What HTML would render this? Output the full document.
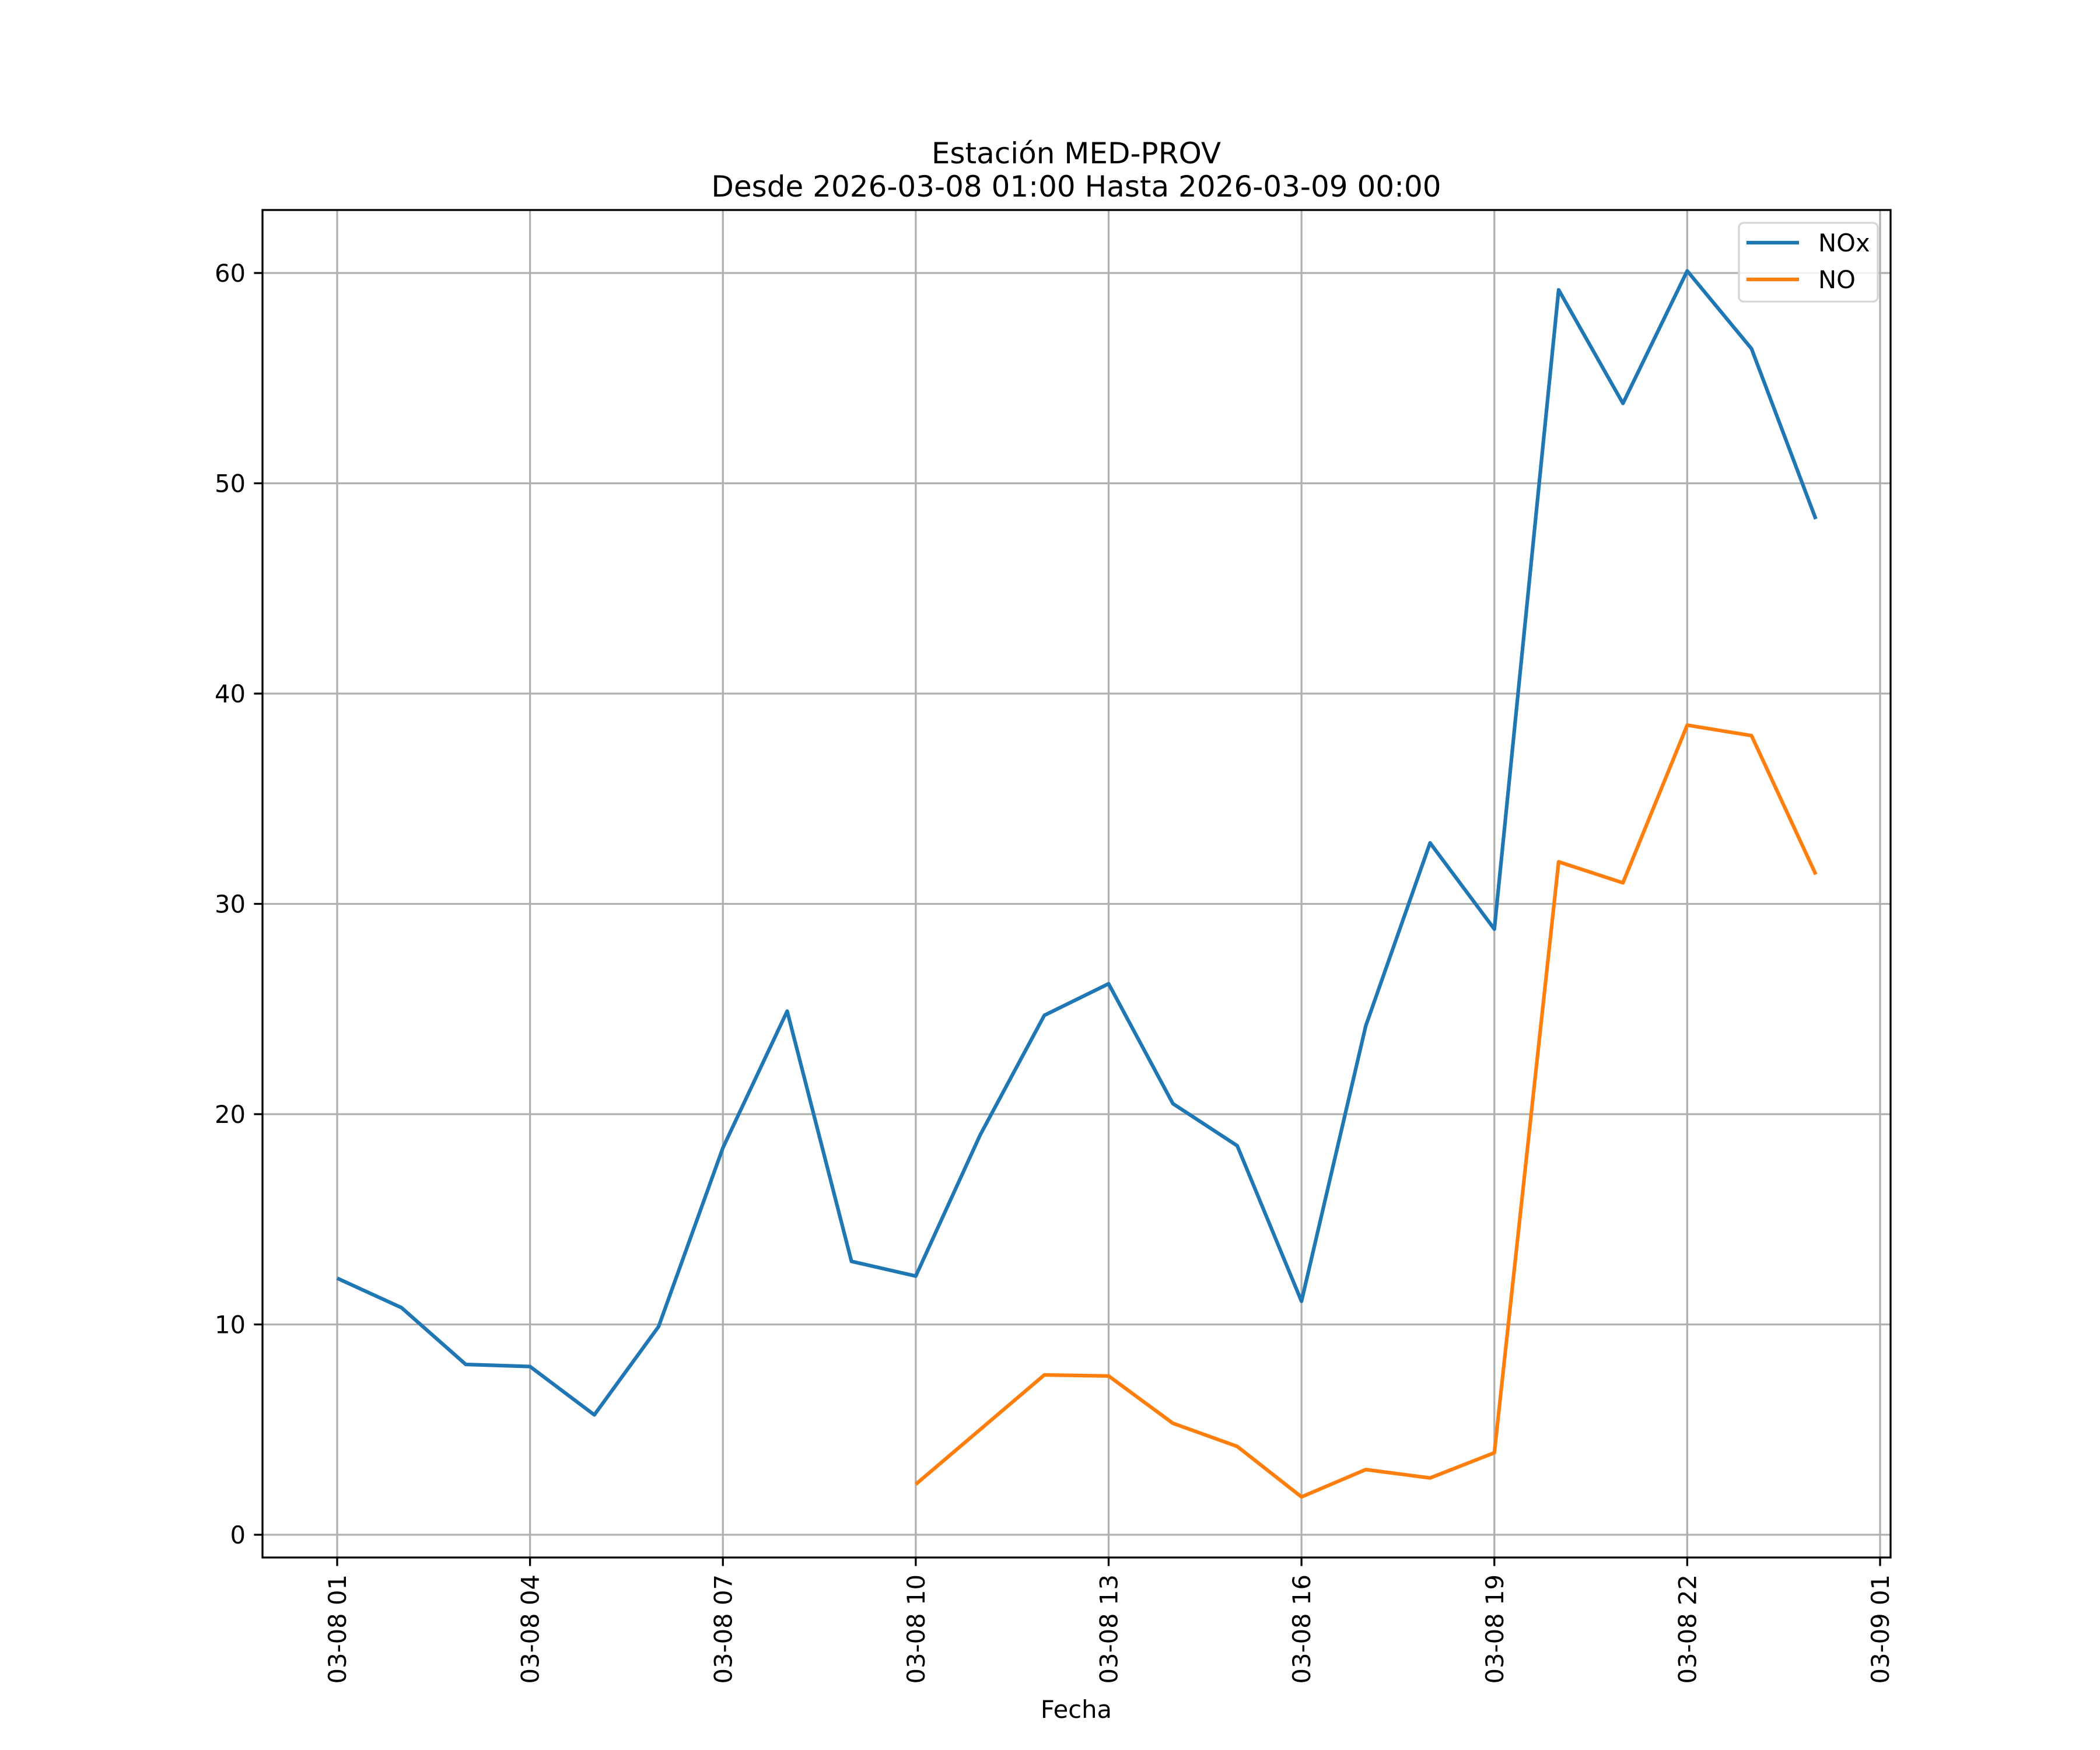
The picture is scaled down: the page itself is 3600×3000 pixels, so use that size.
<!DOCTYPE html>
<html><head><meta charset="utf-8"><style>
html,body{margin:0;padding:0;background:#fff;}
svg{display:block;font-family:"DejaVu Sans","Liberation Sans",sans-serif;}
</style></head><body>
<svg id="chart" width="3600" height="3000" viewBox="0 0 3600 3000">
<rect width="3600" height="3000" fill="#fff"/>
<text x="1845" y="280" font-size="50" text-anchor="middle">Estación MED-PROV</text>
<text x="1845" y="337" font-size="50" text-anchor="middle">Desde 2026-03-08 01:00 Hasta 2026-03-09 00:00</text>
<g id="grid"></g>
<g id="series"></g>
<rect x="450" y="360" width="2791" height="2310" fill="none" stroke="#000" stroke-width="3.3"/>
<g id="axes"></g>
<text x="1845" y="2945" font-size="41.7" text-anchor="middle">Fecha</text>
<g>
<rect x="2981" y="382" width="238" height="135" rx="8" fill="#fff" fill-opacity="0.8" stroke="#d6d6d6" stroke-width="3.3"/>
<line x1="2994" y1="416" x2="3084" y2="416" stroke="#1f77b4" stroke-width="6.25"/>
<text x="3117" y="431" font-size="41.7">NOx</text>
<line x1="2994" y1="479" x2="3084" y2="479" stroke="#ff7f0e" stroke-width="6.25"/>
<text x="3117" y="494" font-size="41.7">NO</text>
</g>
</svg>
<script>
const hours = [1,2,3,4,5,6,7,8,9,10,11,12,13,14,15,16,17,18,19,20,21,22,23,24];
const noxValues = [12.2,10.8,8.1,8.0,5.7,9.9,18.4,24.9,13.0,12.3,19.0,24.7,26.2,20.5,18.5,11.1,24.2,32.9,28.8,59.2,53.8,60.1,56.4,48.3];
const noHours = [10,11,12,13,14,15,16,17,18,19,20,21,22,23,24];
const noValues = [2.4,5.0,7.6,7.55,5.3,4.2,1.8,3.1,2.7,3.9,32.0,31.0,38.5,38.0,31.4];
const xTickHours = [1,4,7,10,13,16,19,22,25];
const xTickLabels = ["03-08 01","03-08 04","03-08 07","03-08 10","03-08 13","03-08 16","03-08 19","03-08 22","03-09 01"];
const yTicks = [0,10,20,30,40,50,60];

const NS="http://www.w3.org/2000/svg";
const X0=450,X1=3241,Y0=360,Y1=2670;
function xs(h){return 578+(h-1)*(3223-578)/24;}
function ys(v){return 2631-v*(2631-468)/60;}
function mk(tag,attrs,parent){const e=document.createElementNS(NS,tag);for(const k in attrs)e.setAttribute(k,attrs[k]);parent.appendChild(e);return e;}
const grid=document.getElementById('grid'),axes=document.getElementById('axes'),series=document.getElementById('series');
xTickHours.forEach((h,i)=>{
  const x=xs(h);
  const g=mk('line',{x1:x,y1:Y0,x2:x,y2:Y1,stroke:'#b0b0b0','stroke-width':3.3},grid);
  
  
  const t=mk('line',{x1:x,y1:Y1,x2:x,y2:Y1+14.6,stroke:'#000','stroke-width':3.3},axes);
  
  
  const lb=mk('text',{x:0,y:0,'font-size':41.7,'text-anchor':'end',transform:`translate(${x+15},${Y1+29}) rotate(-90)`},axes);
  lb.textContent=xTickLabels[i];
  
  
});
yTicks.forEach(v=>{
  const y=ys(v);
  const g=mk('line',{x1:X0,y1:y,x2:X1,y2:y,stroke:'#b0b0b0','stroke-width':3.3},grid);
  
  
  const t=mk('line',{x1:X0-14.6,y1:y,x2:X0,y2:y,stroke:'#000','stroke-width':3.3},axes);
  
  
  const lb=mk('text',{x:X0-29,y:y+15,'font-size':41.7,'text-anchor':'end'},axes);
  lb.textContent=String(v);
  
  
});
const p1=mk('polyline',{points:hours.map((h,i)=>xs(h)+','+ys(noxValues[i])).join(' '),fill:'none',stroke:'#1f77b4','stroke-width':6.25,'stroke-linejoin':'round'},series);


const p2=mk('polyline',{points:noHours.map((h,i)=>xs(h)+','+ys(noValues[i])).join(' '),fill:'none',stroke:'#ff7f0e','stroke-width':6.25,'stroke-linejoin':'round'},series);


</script>
</body></html>
